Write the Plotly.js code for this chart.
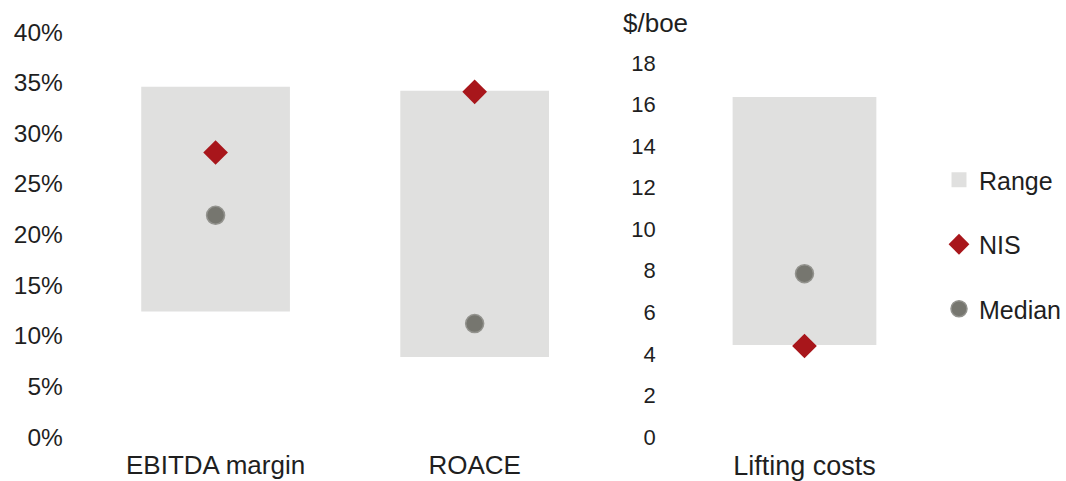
<!DOCTYPE html>
<html>
<head>
<meta charset="utf-8">
<script src="https://cdn.plot.ly/plotly-3.0.1.min.js"></script>
<style>
  html, body { margin: 0; padding: 0; background: #ffffff; }
  #chart { width: 1066px; height: 481px; }
</style>
</head>
<body>
<div id="chart"></div>
<script>
// Peer benchmarking: percentage metrics (left) and lifting costs in $/boe (right)
const pctCategories = ['EBITDA margin', 'ROACE'];
const pctRangeLow = [12.4, 7.9];
const pctRangeHigh = [34.6, 34.2];
const pctNIS = [28.1, 34.1];
const pctMedian = [21.9, 11.2];

const costCategories = ['Lifting costs'];
const costRangeLow = [4.43];
const costRangeHigh = [16.36];
const costNIS = [4.38];
const costMedian = [7.86];

const pctTicks = [0, 5, 10, 15, 20, 25, 30, 35, 40];
const pctTickText = pctTicks.map(v => v + '%');
const costTicks = [0, 2, 4, 6, 8, 10, 12, 14, 16, 18];

const W = 1066, H = 481;
const px = x => x / W;
const py = y => 1 - y / H;

const rangeColor = '#e0e0df';
const nisColor = '#a8161b';
const medianColor = '#76766f';
const textColor = '#1f1f1f';
const font = 'Liberation Sans, Arial, sans-serif';

const diff = (hi, lo) => hi.map((v, i) => v - lo[i]);

const traces = [
  {
    type: 'bar', name: 'Range', legendgroup: 'range', showlegend: false,
    x: pctCategories, base: pctRangeLow, y: diff(pctRangeHigh, pctRangeLow),
    width: 0.574, marker: { color: rangeColor, line: { width: 0 } },
    xaxis: 'x', yaxis: 'y', hoverinfo: 'skip'
  },
  {
    type: 'bar', name: 'Range', legendgroup: 'range', showlegend: false,
    x: costCategories, base: costRangeLow, y: diff(costRangeHigh, costRangeLow),
    width: 1.0, marker: { color: rangeColor, line: { width: 0 } },
    xaxis: 'x2', yaxis: 'y2', hoverinfo: 'skip'
  },
  // legend key for the range boxes (square swatch)
  {
    type: 'scatter', mode: 'markers', name: 'Range', legendgroup: 'range',
    x: [null], y: [null],
    marker: { symbol: 'square', size: 15, color: rangeColor, line: { width: 0 } },
    xaxis: 'x', yaxis: 'y'
  },
  {
    type: 'scatter', mode: 'markers', name: 'NIS', legendgroup: 'nis',
    x: pctCategories, y: pctNIS,
    marker: { symbol: 'diamond', size: 19, color: nisColor, line: { width: 0 } },
    xaxis: 'x', yaxis: 'y'
  },
  {
    type: 'scatter', mode: 'markers', name: 'NIS', legendgroup: 'nis', showlegend: false,
    x: costCategories, y: costNIS,
    marker: { symbol: 'diamond', size: 19, color: nisColor, line: { width: 0 } },
    xaxis: 'x2', yaxis: 'y2'
  },
  {
    type: 'scatter', mode: 'markers', name: 'Median', legendgroup: 'median',
    x: pctCategories, y: pctMedian,
    marker: { symbol: 'circle', size: 18, color: medianColor, line: { width: 1.5, color: '#93938e' } },
    xaxis: 'x', yaxis: 'y'
  },
  {
    type: 'scatter', mode: 'markers', name: 'Median', legendgroup: 'median', showlegend: false,
    x: costCategories, y: costMedian,
    marker: { symbol: 'circle', size: 18, color: medianColor, line: { width: 1.5, color: '#93938e' } },
    xaxis: 'x2', yaxis: 'y2'
  }
];

const yDomain = [py(437), py(20)];

const layout = {
  width: W, height: H,
  margin: { l: 0, r: 0, t: 0, b: 0 },
  paper_bgcolor: '#ffffff', plot_bgcolor: 'rgba(0,0,0,0)',
  font: { family: font, color: textColor },
  barmode: 'overlay',
  showlegend: true,
  xaxis: {
    domain: [px(67), px(610)], anchor: 'y',
    type: 'category', categoryarray: pctCategories,
    range: [-0.574, 1.518],
    showgrid: false, zeroline: false, showline: false, ticks: '',
    tickfont: { size: 26, color: textColor }, ticklabelstandoff: 10,
    fixedrange: true
  },
  yaxis: {
    domain: yDomain, anchor: 'x', range: [0, 41.19],
    tickvals: pctTicks, ticktext: pctTickText,
    showgrid: false, zeroline: false, showline: false, ticks: '',
    tickfont: { size: 24.5, color: textColor }, ticklabelstandoff: 3,
    fixedrange: true
  },
  xaxis2: {
    domain: [px(662), px(950)], anchor: 'y2',
    type: 'category', categoryarray: costCategories,
    range: [-1, 1],
    showgrid: false, zeroline: false, showline: false, ticks: '',
    tickfont: { size: 27, color: textColor }, ticklabelstandoff: 10,
    fixedrange: true
  },
  yaxis2: {
    domain: yDomain, anchor: 'x2', range: [0, 20.07],
    tickvals: costTicks,
    showgrid: false, zeroline: false, showline: false, ticks: '',
    tickfont: { size: 22, color: textColor }, ticklabelstandoff: 4,
    fixedrange: true
  },
  legend: {
    x: px(941), xanchor: 'left', y: py(157), yanchor: 'top',
    font: { size: 25, color: textColor },
    traceorder: 'grouped', tracegroupgap: 29,
    bgcolor: 'rgba(0,0,0,0)', borderwidth: 0
  },
  annotations: [
    {
      text: '$/boe', xref: 'paper', yref: 'paper',
      x: px(657), y: py(23), xanchor: 'center', yanchor: 'middle',
      showarrow: false, font: { size: 26, color: textColor }
    }
  ]
};

Plotly.newPlot('chart', traces, layout, { displayModeBar: false, staticPlot: true });
</script>
</body>
</html>
